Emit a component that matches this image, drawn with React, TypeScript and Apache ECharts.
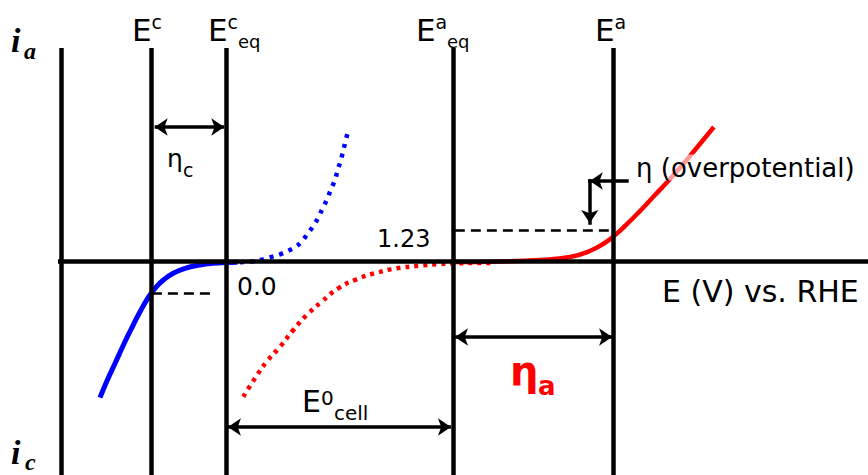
import { useEffect, useRef } from "react";
import * as echarts from "echarts";

// Axis ranges: potential E (V vs. RHE) horizontally, current i (arb. units) vertically
const E_MIN = -1.23;
const E_MAX = 3.484;
const I_MIN = -2.14;
const I_MAX = 2.61;

// Reference potentials
const E_AXIS = -0.9; // current axis
const E_C = -0.41; // cathode operating potential
const E_C_EQ = 0.0; // cathode equilibrium potential
const E_A_EQ = 1.23; // anode equilibrium potential
const E_A = 2.1; // anode operating potential
const I_TOP = 2.13; // top of the vertical guides

// Current levels reached at the operating potentials
const I_CATH_OP = -0.32;
const I_ANOD_OP = 0.31;

// Polarisation curves [E, i]
const cathodicSolid: [number, number][] = [
  [-0.687, -1.367], [-0.647, -1.19], [-0.605, -1.023], [-0.564, -0.857],
  [-0.52, -0.69], [-0.474, -0.523], [-0.422, -0.357], [-0.388, -0.273],
  [-0.343, -0.19], [-0.289, -0.123], [-0.225, -0.073], [-0.144, -0.04],
  [-0.072, -0.023], [0.0, -0.015], [0.06, -0.012],
];
const cathodicDotted: [number, number][] = [
  [0.02, -0.013], [0.128, -0.007], [0.182, 0.01], [0.236, 0.037],
  [0.291, 0.067], [0.336, 0.103], [0.377, 0.145], [0.408, 0.195],
  [0.439, 0.268], [0.471, 0.35], [0.499, 0.437], [0.522, 0.527],
  [0.547, 0.62], [0.568, 0.72], [0.589, 0.81], [0.604, 0.91],
  [0.62, 1.003], [0.634, 1.103], [0.647, 1.203], [0.661, 1.303],
];
const anodicDotted: [number, number][] = [
  [0.091, -1.357], [0.155, -1.173], [0.218, -1.007], [0.291, -0.857],
  [0.363, -0.69], [0.436, -0.54], [0.517, -0.407], [0.607, -0.273],
  [0.707, -0.183], [0.816, -0.117], [0.924, -0.073], [1.051, -0.047],
  [1.159, -0.03], [1.232, -0.023], [1.447, -0.02],
];
const anodicSolid: [number, number][] = [
  [1.241, -0.01], [1.485, -0.005], [1.702, 0.01], [1.865, 0.04],
  [1.973, 0.1], [2.054, 0.18], [2.104, 0.25], [2.164, 0.35],
  [2.246, 0.5], [2.327, 0.66], [2.409, 0.82], [2.49, 0.99],
  [2.571, 1.17], [2.647, 1.34],
];

// Double-headed span arrows: [level i, from E, to E]
const etaCArrow = [1.34, -0.39, -0.012];
const cellArrow = [-1.66, 0.008, 1.219];
const etaAArrow = [-0.76, 1.241, 2.094];
// Bent pointer towards the anodic overpotential level: [E corner, E end, i top, i tip]
const pointer = [1.973, 2.175, 0.8, 0.38];

const BLACK = "#000000";
const BLUE = "#0000ff";
const RED = "#ff0000";
const SANS = "DejaVu Sans";
const SERIF = "Liberation Serif";

type Seg = [{ coord: number[] }, { coord: number[] }];
const seg = (x1: number, y1: number, x2: number, y2: number): Seg => [
  { coord: [x1, y1] },
  { coord: [x2, y2] },
];

// Text placed by its left edge and alphabetic baseline
function txt(
  text: string,
  left: number,
  baseline: number,
  size: number,
  extra: Record<string, any> = {}
) {
  const family = extra.fontFamily || SANS;
  const k = family === SERIF ? 0.338 : 0.346;
  return {
    type: "text",
    x: left,
    y: baseline - k * size,
    z: 20,
    style: {
      text,
      fontSize: size,
      fontFamily: family,
      fontWeight: extra.fontWeight || "normal",
      fontStyle: extra.fontStyle || "normal",
      fill: extra.fill || BLACK,
      backgroundColor: extra.backgroundColor,
      align: "left",
      verticalAlign: "middle",
      textAlign: "left",
      textVerticalAlign: "middle",
    },
  };
}

const italicBold = { fontFamily: SERIF, fontWeight: "bold", fontStyle: "italic" };

export default function App() {
  const ref = useRef<HTMLDivElement>(null);

  useEffect(() => {
    if (!ref.current) return;
    const chart = echarts.init(ref.current, undefined, { renderer: "svg" });

    const frame: Seg[] = [
      seg(E_AXIS, I_TOP, E_AXIS, I_MIN),
      seg(E_C, I_TOP, E_C, I_MIN),
      seg(E_C_EQ, I_TOP, E_C_EQ, I_MIN),
      seg(E_A_EQ, I_TOP, E_A_EQ, I_MIN),
      seg(E_A, I_TOP, E_A, I_MIN),
      seg(E_AXIS - 0.015, 0, E_MAX, 0),
    ];

    const spans: Seg[] = [etaCArrow, cellArrow, etaAArrow].map(([i, a, b]) =>
      seg(a, i, b, i)
    );

    const [pc, pe, pt, ptip] = pointer;

    const curve = (data: [number, number][], color: string, width: number, type: any, z: number) => ({
      type: "line",
      data,
      smooth: 0.5,
      showSymbol: false,
      symbol: "none",
      silent: true,
      z,
      lineStyle: { color, width, type, cap: "butt" },
    });

    chart.setOption({
      animation: false,
      backgroundColor: "#ffffff",
      grid: { left: 0, right: 0, top: 0, bottom: 0 },
      xAxis: { type: "value", min: E_MIN, max: E_MAX, show: false },
      yAxis: { type: "value", min: I_MIN, max: I_MAX, show: false },
      series: [
        {
          type: "line",
          data: [],
          silent: true,
          z: 2,
          markLine: {
            silent: true,
            symbol: "none",
            label: { show: false },
            lineStyle: { color: BLACK, width: 4.5, type: "solid" },
            data: frame,
          },
        },
        {
          type: "line",
          data: [],
          silent: true,
          z: 2,
          markLine: {
            silent: true,
            symbol: "none",
            label: { show: false },
            lineStyle: { color: BLACK, width: 2.5, type: [10, 6] },
            data: [
              seg(E_C + 0.005, I_CATH_OP, E_C_EQ - 0.07, I_CATH_OP),
              seg(E_A_EQ + 0.01, I_ANOD_OP, E_A - 0.01, I_ANOD_OP),
            ],
          },
        },
        {
          type: "line",
          data: [],
          silent: true,
          z: 2,
          markLine: {
            silent: true,
            symbol: ["arrow", "arrow"],
            symbolSize: 13,
            label: { show: false },
            lineStyle: { color: BLACK, width: 3.5, type: "solid" },
            data: spans,
          },
        },
        {
          type: "line",
          data: [],
          silent: true,
          z: 2,
          markLine: {
            silent: true,
            symbol: ["none", "arrow"],
            symbolSize: 13,
            label: { show: false },
            lineStyle: { color: BLACK, width: 3.5, type: "solid", cap: "square" },
            data: [seg(pe, pt, pc, pt), seg(pc, pt, pc, ptip)],
          },
        },
        curve(anodicDotted, RED, 4.5, [4, 5], 3),
        curve(cathodicDotted, BLUE, 4.5, [4, 6], 3),
        curve(anodicSolid, RED, 4.5, "solid", 4),
        curve(cathodicSolid, BLUE, 5, "solid", 4),
      ],
      graphic: [
        // current axis ends
        txt("i", 11, 52, 34, italicBold),
        txt("a", 24, 59, 24, italicBold),
        txt("i", 11, 464, 34, italicBold),
        txt("c", 25, 470, 24, italicBold),
        // potential markers on top
        txt("E", 132, 41, 31),
        txt("c", 151.5, 29, 19),
        txt("E", 208, 41, 31),
        txt("c", 227.5, 29, 19),
        txt("eq", 238, 48, 18),
        txt("E", 416, 41, 31),
        txt("a", 435.5, 29, 19),
        txt("eq", 447, 48, 18),
        txt("E", 595, 41, 31),
        txt("a", 614.5, 29, 19),
        // overpotentials
        txt("η", 167, 167, 25),
        txt("c", 183, 177, 19),
        txt("η", 510, 385, 40, { fontWeight: "bold", fill: RED }),
        txt("a", 538, 395, 26, { fontWeight: "bold", fill: RED }),
        txt("η (overpotential)", 636, 176.5, 26, { backgroundColor: "rgba(255,255,255,0.6)" }),
        // values and axis title
        txt("0.0", 237, 295, 25),
        txt("1.23", 377, 247, 24),
        txt("E (V) vs. RHE", 662, 302, 30),
        // standard cell potential
        txt("E", 302, 412, 30),
        txt("0", 321, 405, 20),
        txt("cell", 334, 420, 20),
      ],
    });

    return () => chart.dispose();
  }, []);

  return (
    <div
      ref={ref}
      style={{ position: "fixed", left: 0, top: 0, width: 868, height: 475, background: "#fff" }}
    />
  );
}
